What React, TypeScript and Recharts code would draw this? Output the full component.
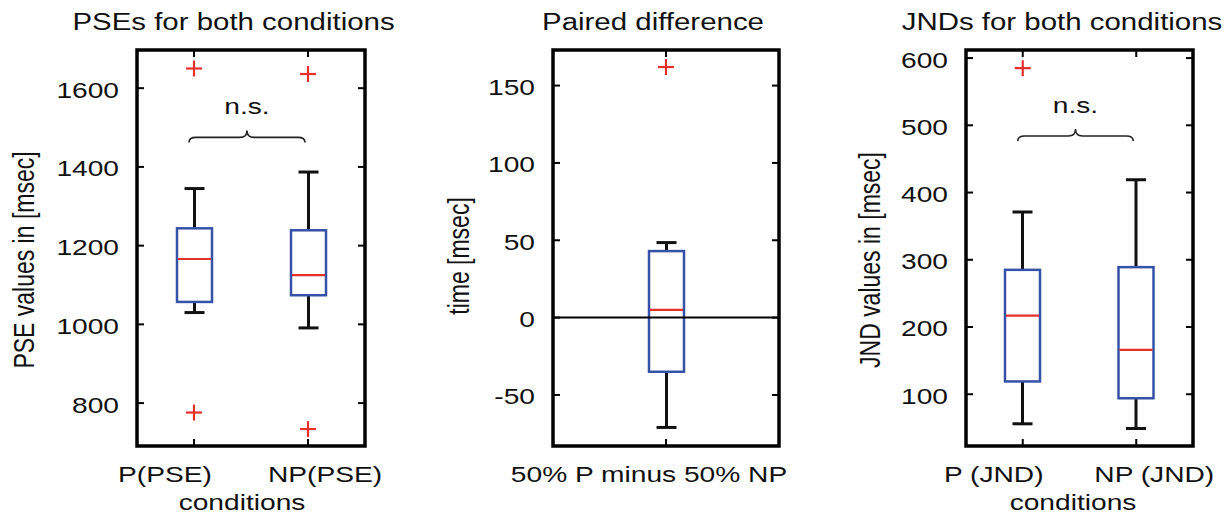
import React from 'react';
import { ComposedChart, Bar, Scatter, XAxis, YAxis, ReferenceLine, ReferenceArea } from 'recharts';

const SX = 1.28;
const FONT = '"Liberation Sans", Arial, Helvetica, sans-serif';
const BLUE = '#3551a8';
const RED = '#e5302c';
const INK = '#111111';

// ---------- Panel 1: PSEs ----------
const pseCategories = ['P(PSE)', 'NP(PSE)'];
const pseMin = [1030, 991];
const pseQ1 = [1057, 1074];
const pseMedian = [1166, 1125];
const pseQ3 = [1244, 1239];
const pseMax = [1345, 1387];
const pseOutHigh: (number | null)[] = [1650, 1636];
const pseOutLow: (number | null)[] = [776, 734];
const pseTicks = [800, 1000, 1200, 1400, 1600];
const pseLimits = [691, 1697];
const pseBraceAt = 1475;

// ---------- Panel 2: Paired difference ----------
const diffCategories = ['50% P minus 50% NP'];
const diffMin = [-71];
const diffQ1 = [-35];
const diffMedian = [5];
const diffQ3 = [43];
const diffMax = [48.5];
const diffOutHigh: (number | null)[] = [162];
const diffOutLow: (number | null)[] = [null];
const diffTicks = [-50, 0, 50, 100, 150];
const diffLimits = [-83, 173];

// ---------- Panel 3: JNDs ----------
const jndCategories = ['P (JND)', 'NP (JND)'];
const jndMin = [56, 49];
const jndQ1 = [119, 94];
const jndMedian = [217, 166];
const jndQ3 = [285, 289];
const jndMax = [371, 419];
const jndOutHigh: (number | null)[] = [585, null];
const jndOutLow: (number | null)[] = [null, null];
const jndTicks = [100, 200, 300, 400, 500, 600];
const jndLimits = [23, 612];
const jndBraceAt = 484;

const braceLabel = 'n.s.';

type Row = {
  name: string;
  min: number;
  q1: number;
  median: number;
  q3: number;
  max: number;
  outHi: number | null;
  outLo: number | null;
};

function buildRows(
  cats: string[],
  mins: number[],
  q1s: number[],
  meds: number[],
  q3s: number[],
  maxs: number[],
  hi: (number | null)[],
  lo: (number | null)[]
): Row[] {
  return cats.map((name, i) => ({
    name,
    min: mins[i],
    q1: q1s[i],
    median: meds[i],
    q3: q3s[i],
    max: maxs[i],
    outHi: hi[i],
    outLo: lo[i],
  }));
}

const pseRows = buildRows(pseCategories, pseMin, pseQ1, pseMedian, pseQ3, pseMax, pseOutHigh, pseOutLow);
const diffRows = buildRows(diffCategories, diffMin, diffQ1, diffMedian, diffQ3, diffMax, diffOutHigh, diffOutLow);
const jndRows = buildRows(jndCategories, jndMin, jndQ1, jndMedian, jndQ3, jndMax, jndOutHigh, jndOutLow);

function StretchText({ x, y, children, size = 22, anchor = 'middle', rotate = false, dy }: any) {
  const t = rotate
    ? `translate(${x},${y}) scale(${SX},1) rotate(-90)`
    : `translate(${x},${y}) scale(${SX},1)`;
  return (
    <text transform={t} textAnchor={anchor} fontSize={size} fontFamily={FONT} fill={INK} stroke="none" dy={dy}>
      {children}
    </text>
  );
}

function BoxShape(props: any) {
  const { x, y, width, height, payload } = props;
  if (!payload) return <g />;
  const { min, q1, median, q3, max } = payload as Row;
  const top = Math.min(y, y + height);
  const h = Math.abs(height);
  const span = max - min;
  const py = (v: number) => top + ((max - v) / span) * h;
  const cx = x + width / 2;
  const cap = 10;
  const wk = { stroke: INK, strokeWidth: 3 };
  return (
    <g>
      <line x1={cx} y1={py(max)} x2={cx} y2={py(q3)} {...wk} />
      <line x1={cx} y1={py(q1)} x2={cx} y2={py(min)} {...wk} />
      <line x1={cx - cap} y1={py(max)} x2={cx + cap} y2={py(max)} {...wk} />
      <line x1={cx - cap} y1={py(min)} x2={cx + cap} y2={py(min)} {...wk} />
      <rect x={x} y={py(q3)} width={width} height={py(q1) - py(q3)} fill="none" stroke={BLUE} strokeWidth={2.5} />
      <line x1={x + 1} y1={py(median)} x2={x + width - 1} y2={py(median)} stroke={RED} strokeWidth={2.2} />
    </g>
  );
}

function Plus(props: any) {
  const { cx, cy, payload, k } = props;
  if (!payload || payload[k] == null || cx == null || cy == null || isNaN(cx) || isNaN(cy)) return <g />;
  const a = 8;
  return (
    <g>
      <line x1={cx - a} y1={cy} x2={cx + a} y2={cy} stroke={RED} strokeWidth={2.2} />
      <line x1={cx} y1={cy - a} x2={cx} y2={cy + a} stroke={RED} strokeWidth={2.2} />
    </g>
  );
}

function BraceShape(props: any) {
  const { x1, y1, x2 } = props;
  const a = x1 - 5;
  const b = x2 - 3;
  const y = y1;
  const m = (a + b) / 2;
  const d = `M${a},${y + 5} Q${a},${y} ${a + 7},${y} L${m - 7},${y} Q${m},${y} ${m},${y - 7} Q${m},${y} ${m + 7},${y} L${b - 7},${y} Q${b},${y} ${b},${y + 5}`;
  return (
    <g>
      <path d={d} fill="none" stroke="#222" strokeWidth={1.6} />
      <StretchText x={m} y={y - 23}>{braceLabel}</StretchText>
    </g>
  );
}

function FrameShape(props: any) {
  const { x, y, width, height } = props;
  return <rect x={x} y={y} width={width} height={height} fill="none" stroke="#000" strokeWidth={3.5} />;
}

function LeftTick(props: any) {
  const { x, y, payload } = props;
  return (
    <g>
      <line x1={x} y1={y} x2={x + 7} y2={y} stroke="#000" strokeWidth={2} />
      <StretchText x={x - 18} y={y + 9.5} anchor="end">{payload.value}</StretchText>
    </g>
  );
}

function RightTick(props: any) {
  const { x, y } = props;
  return <line x1={x} y1={y} x2={x - 7} y2={y} stroke="#000" strokeWidth={2} />;
}

function TopTick(props: any) {
  const { x, y } = props;
  return <line x1={x} y1={y} x2={x} y2={y + 7} stroke="#000" strokeWidth={2} />;
}

function BottomTick(props: any) {
  const { x, y, payload, shift } = props;
  return (
    <g>
      <line x1={x} y1={y} x2={x} y2={y - 7} stroke="#000" strokeWidth={2} />
      <StretchText x={x + (shift || 0)} y={y + 36}>{payload.value}</StretchText>
    </g>
  );
}

function Panel(p: any) {
  const { left, rows, limits, ticks, plot, title, titleX, yLabel, yLabelX, yLabelY, xShift, xTitle, xTitleX, braceAt, zeroLine } = p;
  const cats = rows.map((r: Row) => r.name);
  // plot = {left, right, top, bottom} pixel edges of the frame inside a 410x515 chart
  const margin = { top: plot.top - 1, right: 410 - plot.right - 1, bottom: 515 - plot.bottom - 1, left: plot.left - 1 };
  const axisCommon = {
    tickSize: 0,
    tickMargin: 0,
    tickLine: false,
    axisLine: false,
    interval: 0 as const,
  };
  return (
    <div style={{ position: 'absolute', left, top: 0 }}>
      <ComposedChart width={410} height={515} data={rows} margin={margin}>
        <XAxis
          dataKey="name"
          height={1}
          {...axisCommon}
          tick={(tp: any) => <BottomTick {...tp} shift={xShift[tp.index]} />}
          label={{ content: () => (xTitle ? <StretchText x={xTitleX} y={510}>{xTitle}</StretchText> : null) } as any}
        />
        <XAxis
          xAxisId="t"
          orientation="top"
          dataKey="name"
          height={1}
          {...axisCommon}
          tick={(tp: any) => <TopTick {...tp} />}
          label={{ content: () => <StretchText x={titleX} y={30} size={23}>{title}</StretchText> } as any}
        />
        <YAxis
          type="number"
          domain={limits}
          ticks={ticks}
          allowDataOverflow
          width={1}
          {...axisCommon}
          tick={(tp: any) => <LeftTick {...tp} />}
          label={{ content: () => <StretchText x={yLabelX} y={yLabelY} size={23} rotate dy="0.3em">{yLabel}</StretchText> } as any}
        />
        <YAxis
          yAxisId="r"
          orientation="right"
          type="number"
          domain={limits}
          ticks={ticks}
          allowDataOverflow
          width={1}
          {...axisCommon}
          tick={(tp: any) => <RightTick {...tp} />}
        />
        <ReferenceArea y1={limits[0]} y2={limits[1]} ifOverflow="visible" shape={FrameShape} />
        {zeroLine && <ReferenceLine y={0} stroke="#000" strokeWidth={2} />}
        <Bar dataKey={(d: Row) => [d.min, d.max]} barSize={35} shape={BoxShape} isAnimationActive={false} />
        <Scatter dataKey="outHi" shape={(sp: any) => <Plus {...sp} k="outHi" />} isAnimationActive={false} />
        <Scatter dataKey="outLo" shape={(sp: any) => <Plus {...sp} k="outLo" />} isAnimationActive={false} />
        <Scatter xAxisId="t" yAxisId="r" dataKey="median" shape={() => <g />} isAnimationActive={false} />
        {braceAt != null && cats.length > 1 && (
          <ReferenceLine
            segment={[{ x: cats[0], y: braceAt }, { x: cats[1], y: braceAt }]}
            shape={BraceShape}
          />
        )}
      </ComposedChart>
    </div>
  );
}

export default function App() {
  return (
    <div style={{ position: 'absolute', left: 0, top: 0, width: 1231, height: 515, background: '#fff' }}>
      <Panel
        left={0}
        rows={pseRows}
        limits={pseLimits}
        ticks={pseTicks}
        plot={{ left: 137, right: 365, top: 50, bottom: 446 }}
        title="PSEs for both conditions"
        titleX={233.5}
        yLabel="PSE values in [msec]"
        yLabelX={25}
        yLabelY={260}
        xShift={[-29, 17]}
        xTitle="conditions"
        xTitleX={242}
        braceAt={pseBraceAt}
      />
      <Panel
        left={410}
        rows={diffRows}
        limits={diffLimits}
        ticks={diffTicks}
        plot={{ left: 143, right: 369, top: 50, bottom: 446 }}
        title="Paired difference"
        titleX={243}
        yLabel="time [msec]"
        yLabelX={50}
        yLabelY={256}
        xShift={[-17]}
        zeroLine
      />
      <Panel
        left={820}
        rows={jndRows}
        limits={jndLimits}
        ticks={jndTicks}
        plot={{ left: 146, right: 373, top: 50, bottom: 446 }}
        title="JNDs for both conditions"
        titleX={242}
        yLabel="JND values in [msec]"
        yLabelX={51}
        yLabelY={260}
        xShift={[-29, 18]}
        xTitle="conditions"
        xTitleX={253}
        braceAt={jndBraceAt}
      />
    </div>
  );
}
